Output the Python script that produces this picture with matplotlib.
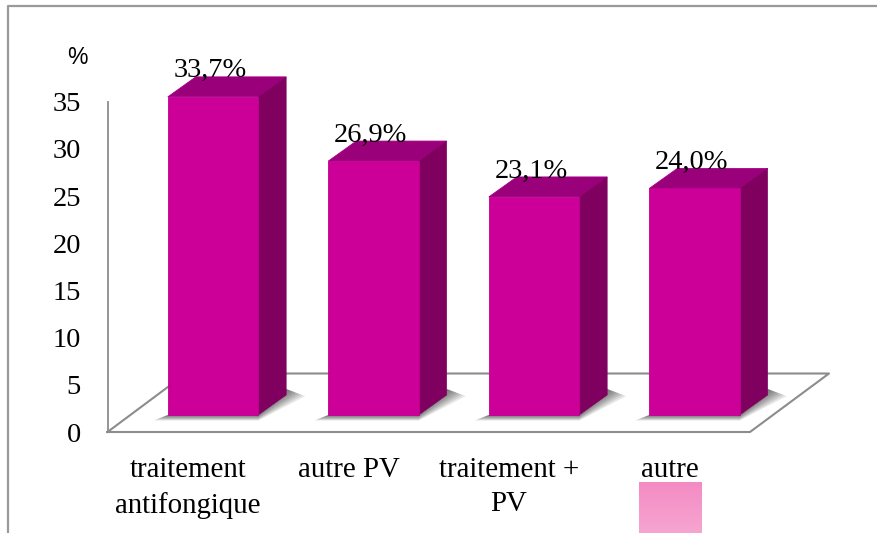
import numpy as np
import matplotlib
matplotlib.use("Agg")
import matplotlib.pyplot as plt
from matplotlib.patches import Polygon, Rectangle

categories = ["traitement\nantifongique", "autre PV", "traitement +\nPV", "autre"]
values = [33.7, 26.9, 23.1, 24.0]
value_labels = ["33,7%", "26,9%", "23,1%", "24,0%"]
yticks = [0, 5, 10, 15, 20, 25, 30, 35]

W, H = 877, 533
X0, XS = 213.0, 160.5   # pixel of category 0, pixels per category
Y0, YS = 415.0, 9.44    # pixel of value 0, pixels per value unit


def px(dx):
    return dx / XS


def py(dy):
    return dy / YS


fig = plt.figure(figsize=(W / 100, H / 100), dpi=100, facecolor="white")
ax = fig.add_axes([0, 0, 1, 1])
ax.set_xlim(-X0 / XS, (W - X0) / XS)
ax.set_ylim((Y0 - H) / YS, Y0 / YS)
ax.axis("off")

serif = "Liberation Serif"
grey = "#8c8c8c"

# outer frame, only top and left show
x_left, x_right = ax.get_xlim()
y_bot, y_top = ax.get_ylim()
ax.plot([x_left + px(8), x_left + px(8), x_right], [y_bot, y_top - py(5.5), y_top - py(5.5)],
        color="#9a9a9a", lw=1.6, zorder=1)

# floor and back wall line
front = py(-17)
back = py(41.5)
fl = x_left + px(107.5)
fr = x_left + px(750)
bl = x_left + px(186)
br = x_left + px(829)
ax.plot([fl, fl], [front, front + 35 * 1.0], color=grey, lw=1.3, zorder=1)
ax.plot([fl, fr, br, bl, fl], [front, front, back, back, front], color=grey, lw=1.5, zorder=1)

half = px(45.2)
dx = px(28)
dy = py(20)

# soft shadows under the bars
for i in range(len(values)):
    for k in range(1, 9):
        ax.add_patch(Polygon([(i - half - px(1.8 * k), py(-0.7 * k)),
                              (i + half, py(-0.7 * k)),
                              (i + half + dx + px(2.4 * k), dy + py(6 - 0.9 * k)),
                              (i + half + dx, dy + py(6)),
                              (i + half, 0),
                              (i - half, 0)],
                             closed=True, fc="black", ec="none", alpha=0.085, zorder=2))

# bars: front, top and side faces
for i, v in enumerate(values):
    l, r = i - half, i + half
    ax.add_patch(Polygon([(l, v), (r, v), (r + dx, v + dy), (l + dx, v + dy)],
                         closed=True, fc="#99007a", ec="#a8008a", lw=0.6, zorder=3))
    ax.add_patch(Polygon([(r, 0), (r + dx, dy), (r + dx, v + dy), (r, v)],
                         closed=True, fc="#800060", ec="#800060", lw=0.4, zorder=3))
    ax.add_patch(Rectangle((l, 0), 2 * half, v, fc="#cc0099", ec="#c00090", lw=0.6, zorder=4))
    ax.text(i - px(3), v + py(26), value_labels[i], family=serif, fontsize=20.5,
            ha="center", va="center", color="black", zorder=5)

# y tick labels
for t in yticks:
    ax.text(x_left + px(81), t + front - py(3), str(t), family=serif, fontsize=20.5,
            ha="right", va="center", color="black", zorder=5)
ax.text(x_left + px(77), py(415 - 58), "%", family="Liberation Sans", fontsize=16.5,
        ha="center", va="center", color="black", zorder=5)

# category labels
for i, c in enumerate(categories):
    ax.text(i - px(25), py(-42), c, family=serif, fontsize=20.8, ha="center", va="top",
            linespacing=1.42, color="black", zorder=5)

# pale pink swatch under the last label
grad = np.linspace(0, 1, 50).reshape(-1, 1)
c1 = np.array([0xf4, 0x8b, 0xc4]) / 255
c2 = np.array([0xf6, 0xa5, 0xd0]) / 255
img = (c1 + (c2 - c1) * grad[..., None]).reshape(50, 1, 3)
ax.imshow(img, extent=(x_left + px(639), x_left + px(702), y_bot, py(415 - 482)),
          aspect="auto", origin="upper", zorder=2)
ax.set_xlim(x_left, x_right)
ax.set_ylim(y_bot, y_top)

fig.savefig("out.png", dpi=100)
